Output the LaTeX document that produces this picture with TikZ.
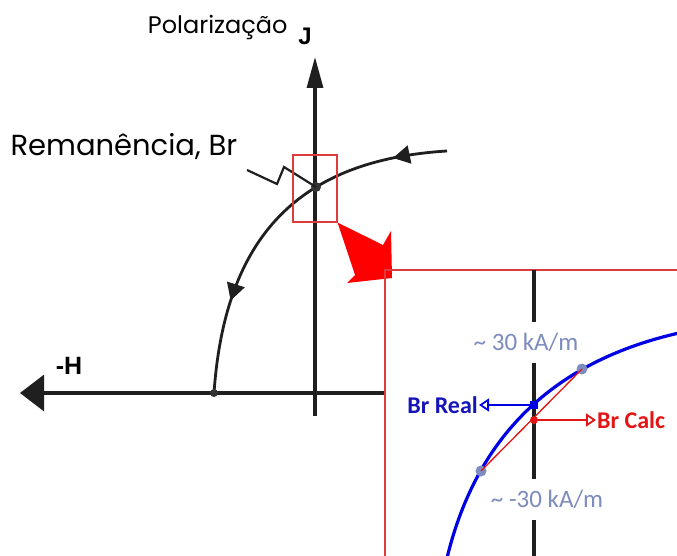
\documentclass[tikz,border=0pt]{standalone}
\usepackage{fontspec}
\usepackage{xcolor}
\usetikzlibrary{arrows.meta, decorations.markings}
\newfontfamily\gothic{Poppins}
\newfontfamily\calib{Carlito}
\newfontfamily\arialb{Liberation Sans}
\definecolor{bcurve}{RGB}{0,0,228}
\definecolor{btext}{RGB}{20,20,185}
\definecolor{rcalc}{RGB}{228,20,20}
\definecolor{grayb}{RGB}{125,140,190}
\definecolor{boxred}{RGB}{220,60,60}

\begin{document}
\begin{tikzpicture}[x=1pt, y=-1pt,
    axis/.style={line width=3.2pt, black!88},
    curv/.style={line width=2.8pt, black!88},
    dot/.style={circle, fill=#1, inner sep=0pt, minimum size=9pt},
    lab/.style={font=\calib\bfseries\fontsize{24}{26}\selectfont, inner sep=1pt},
    kam/.style={font=\calib\fontsize{25}{27}\selectfont, text=grayb, fill=white, inner xsep=2pt},
    pt/.style={-{Triangle[open, length=10pt, width=13pt, line width=1.8pt]}, line width=2.2pt}]
    \useasboundingbox (0,0) rectangle (677,556);

    % axes
    \coordinate (hend) at (385,393);
    \coordinate (htip) at (20,393);
    \coordinate (jend) at (315,416);
    \coordinate (jtip) at (315,57);
    \draw[axis, -{Triangle[length=24pt, width=36pt]}] (hend) -- (htip);
    \draw[axis, -{Triangle[length=31pt, width=16pt]}] (jend) -- (jtip);
    \node[font=\arialb\bfseries\fontsize{25}{27}\selectfont] (hlab) at (69,366) {-H};
    \node[font=\arialb\bfseries\fontsize{24}{26}\selectfont] (jlab) at (305,36) {J};
    \node[font=\gothic\fontsize{24}{26}\selectfont, anchor=east] (pol) at (291,27) {Polarização};
    \node[font=\gothic\fontsize{29}{31}\selectfont, anchor=west] (rem) at (7,147) {Remanência, Br};

    % demagnetisation curve
    \coordinate (ctop) at (447,151);
    \coordinate (cbot) at (214,393);
    \draw[curv, postaction={decorate}, decoration={markings,
        mark=at position 0.145 with {\arrow{Triangle[length=17pt, width=18pt]}},
        mark=at position 0.75 with {\arrow{Triangle[length=17pt, width=18pt]}}}]
      (ctop) .. controls (300,160) and (225,235) .. (cbot);
    \node[dot=black!80, minimum size=10pt] (br) at (316,187) {};
    \node[dot=black!80, minimum size=8pt] (hc) at (cbot) {};
    \coordinate (zz) at (247,170);
    \draw[line width=2.2pt, black!88] (zz) -- (277,184) -- (284,167) -- (br.center);

    % zoom marker
    \node[draw=boxred, line width=1.2pt, minimum width=44pt, minimum height=67pt] (zbox) at (315,188.5) {};
    \fill[red] (zbox.south east) -- (383,245) -- (391,231) -- (392,278) -- (347,283) -- (355,275) -- cycle;
    \coordinate (bigc) at (385,270);
    \draw[boxred, line width=1.3pt] (bigc |- 0,560) -- (bigc) -- (680,270);

    % detail
    \coordinate (jtop) at (534,270);
    \coordinate (jbot) at (534,560);
    \draw[axis] (jtop) -- (jbot);
    \node[kam, minimum height=41pt] (up) at (526,342.5) {\textasciitilde{} 30 kA/m};
    \node[kam, minimum height=41pt] (dn) at (547,499) {\textasciitilde{} -30 kA/m};
    \draw[bcurve, line width=3.2pt] (447,558) .. controls (478,430) and (560,360) .. (679,333);
    \node[dot=grayb, minimum size=11pt] (p1) at (481,471) {};
    \node[dot=grayb, minimum size=11pt] (p2) at (582,369) {};
    \draw[rcalc, line width=1.3pt] (p1.center) -- (p2.center);
    \node[fill=bcurve, inner sep=0pt, minimum size=8pt] (real) at (534,405) {};
    \node[dot=rcalc, minimum size=8pt] (calc) at (534,420) {};
    \node[lab, text=btext, anchor=east] (rlab) at (479,405) {Br Real};
    \node[lab, text=rcalc, anchor=west] (clab) at (596,420) {Br Calc};
    \draw[pt, bcurve] (real) -- (rlab);
    \draw[pt, rcalc] (calc) -- (clab);
\end{tikzpicture}
\end{document}
